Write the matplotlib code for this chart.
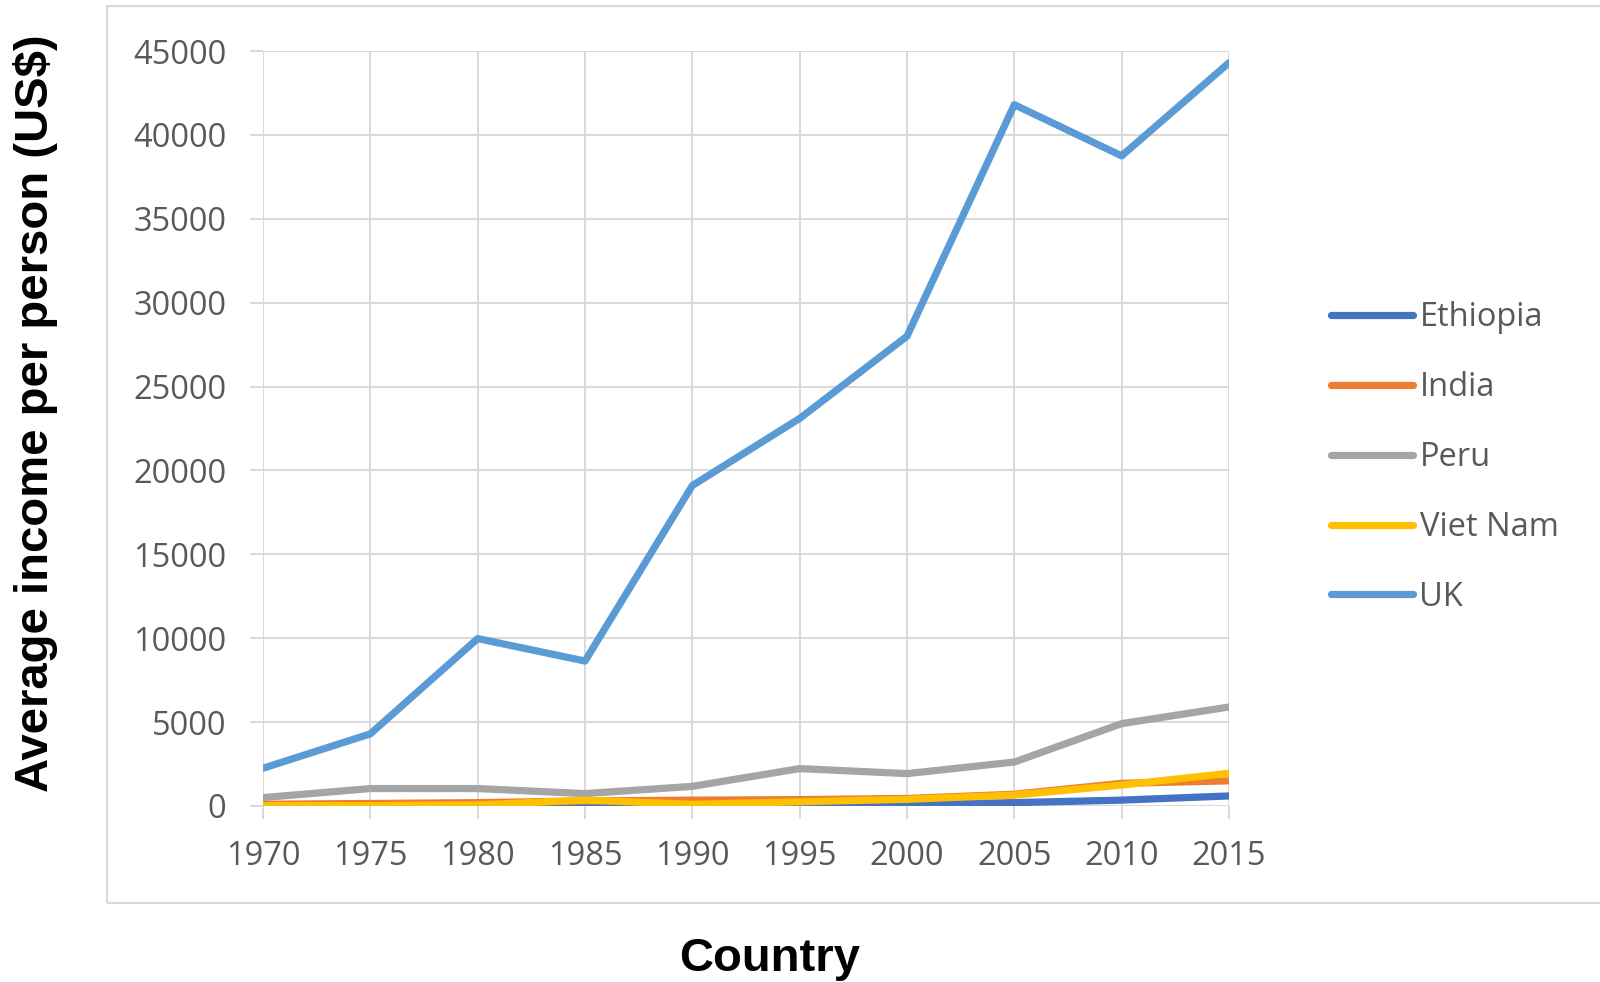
import matplotlib
matplotlib.use("Agg")
import matplotlib.pyplot as plt
from matplotlib.patches import Rectangle

years = [1970, 1975, 1980, 1985, 1990, 1995, 2000, 2005, 2010, 2015]
ethiopia = [80, 100, 100, 150, 150, 50, 80, 200, 350, 600]
india = [100, 150, 200, 300, 350, 380, 450, 700, 1350, 1500]
peru = [500, 1040, 1040, 740, 1170, 2230, 1930, 2620, 4910, 5900]
vietnam = [20, 30, 60, 350, 100, 250, 400, 650, 1250, 1950]
uk = [2250, 4300, 9980, 8640, 19100, 23100, 28000, 41800, 38750, 44300]
series_names = ["Ethiopia", "India", "Peru", "Viet Nam", "UK"]
colors = ["#4472C4", "#ED7D31", "#A5A5A5", "#FFC000", "#5B9BD5"]
yticks = list(range(0, 45001, 5000))

W, H = 1600, 982
fig = plt.figure(figsize=(W / 100, H / 100), dpi=100)
ax = fig.add_axes([263 / W, 1 - 806 / H, (1229 - 263) / W, (806 - 51) / H])

grid_c = "#D9D9D9"
for name, vals, c in zip(series_names, [ethiopia, india, peru, vietnam, uk], colors):
    ax.plot(years, vals, color=c, lw=5.2, label=name, solid_capstyle="round", zorder=3)

ax.set_xlim(1970, 2015)
ax.set_ylim(0, 45000)
ax.set_xticks(years)
ax.set_yticks(yticks)
ax.grid(True, color=grid_c, lw=1.4, zorder=0)
for s in ax.spines.values():
    s.set_visible(False)
ax.tick_params(axis="both", length=9.5, width=1.4, color=grid_c, labelcolor="#595959",
               labelsize=23.5)
ax.tick_params(axis="y", pad=17)
ax.tick_params(axis="x", pad=15)
for lab in ax.get_xticklabels() + ax.get_yticklabels():
    lab.set_fontfamily("Open Sans")

leg = ax.legend(loc="upper left", bbox_to_anchor=(1302 / W, 1 - 272 / H),
                bbox_transform=fig.transFigure, frameon=False,
                prop={"family": "Open Sans", "size": 23.5}, handlelength=2.5,
                handletextpad=0.2, labelspacing=1.13)
for t in leg.get_texts():
    t.set_color("#595959")

fig.text(36 / W, 1 - 413 / H, "Average income per person (US$)", rotation=90,
         ha="center", va="center", fontsize=34, fontweight="bold",
         family="Liberation Sans", color="black")
fig.text(770 / W, 1 - 959 / H, "Country", ha="center", va="center", fontsize=34,
         fontweight="bold", family="Liberation Sans", color="black")

fig.patches.append(Rectangle((107 / W, 1 - 903 / H), 1 - 107 / W + 0.01, (903 - 6) / H,
                             transform=fig.transFigure, fill=False, edgecolor=grid_c,
                             lw=1.6, zorder=0))

fig.savefig("out.png", dpi=100)
